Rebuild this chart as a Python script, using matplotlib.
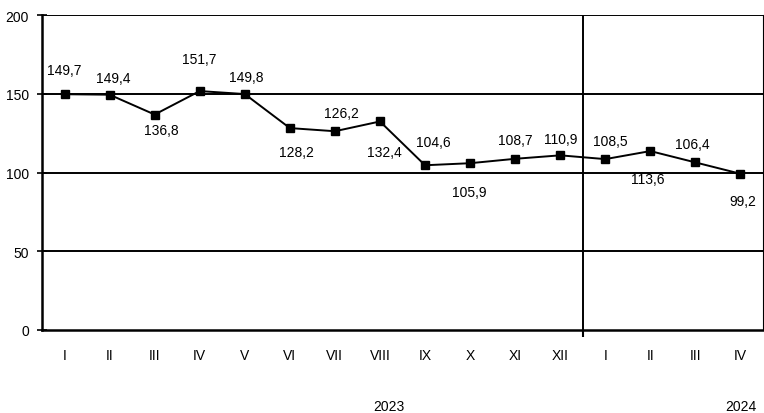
import numpy as np
import matplotlib.pyplot as plt

# monthly index values (I 2023 .. IV 2024)
months = ["I", "II", "III", "IV", "V", "VI", "VII", "VIII", "IX", "X", "XI", "XII",
          "I", "II", "III", "IV"]
values = [149.7, 149.4, 136.8, 151.7, 149.8, 128.2, 126.2, 132.4, 104.6, 105.9,
          108.7, 110.9, 108.5, 113.6, 106.4, 99.2]
years = ["2023", "2024"]
year_pos = [7.2, 15]

# label offsets in pixels (dx, dy)
offsets = [(0, 24), (4, 17), (7, -15), (0, 32), (1, 17), (7, -24), (7, 18), (4, -31),
           (8, 23), (-1, -29), (0, 19), (0, 16), (5, 18), (-3, -28), (-3, 18), (2, -27)]

plt.rcParams['font.family'] = ['Liberation Sans', 'DejaVu Sans']

fig = plt.figure(figsize=(7.64, 4.14), dpi=100)
ax = fig.add_axes([42 / 764, 83 / 414, 721 / 764, 315 / 414])

x = np.arange(len(values))
ax.plot(x, values, color="black", lw=1.4, marker="s", markersize=5.8, zorder=3)

for xi, v, (dx, dy) in zip(x, values, offsets):
    ax.annotate(f"{v:.1f}".replace(".", ","), (xi, v), xytext=(dx, dy),
                textcoords="offset pixels", ha="center", va="center", fontsize=10)

ax.set_xlim(-0.5, len(values) - 0.5)
ax.set_ylim(0, 200)
ax.set_yticks([0, 50, 100, 150, 200])
for yv in [50, 100, 150, 200]:
    ax.axhline(yv, color="black", lw=1.4, zorder=1)
ax.axvline(11.5, color="black", lw=1.4, zorder=1)

ax.set_xticks(x)
ax.set_xticklabels(months)
ax.tick_params(axis="x", length=0, pad=13, labelsize=10)
ax.set_xticks([11.5], minor=True)
ax.tick_params(axis="x", which="minor", length=5, width=1.5, direction="out")
ax.tick_params(axis="y", direction="inout", length=7, width=1.2, pad=6, labelsize=10)

for s in ["left", "bottom"]:
    ax.spines[s].set_linewidth(1.8)
ax.spines["top"].set_visible(False)
ax.spines["right"].set_linewidth(0.8)

for yr, xp in zip(years, year_pos):
    ax.text(xp, -0.24, yr, transform=ax.get_xaxis_transform(), ha="center",
            va="center", fontsize=10)

fig.savefig("out.png", dpi=100)
